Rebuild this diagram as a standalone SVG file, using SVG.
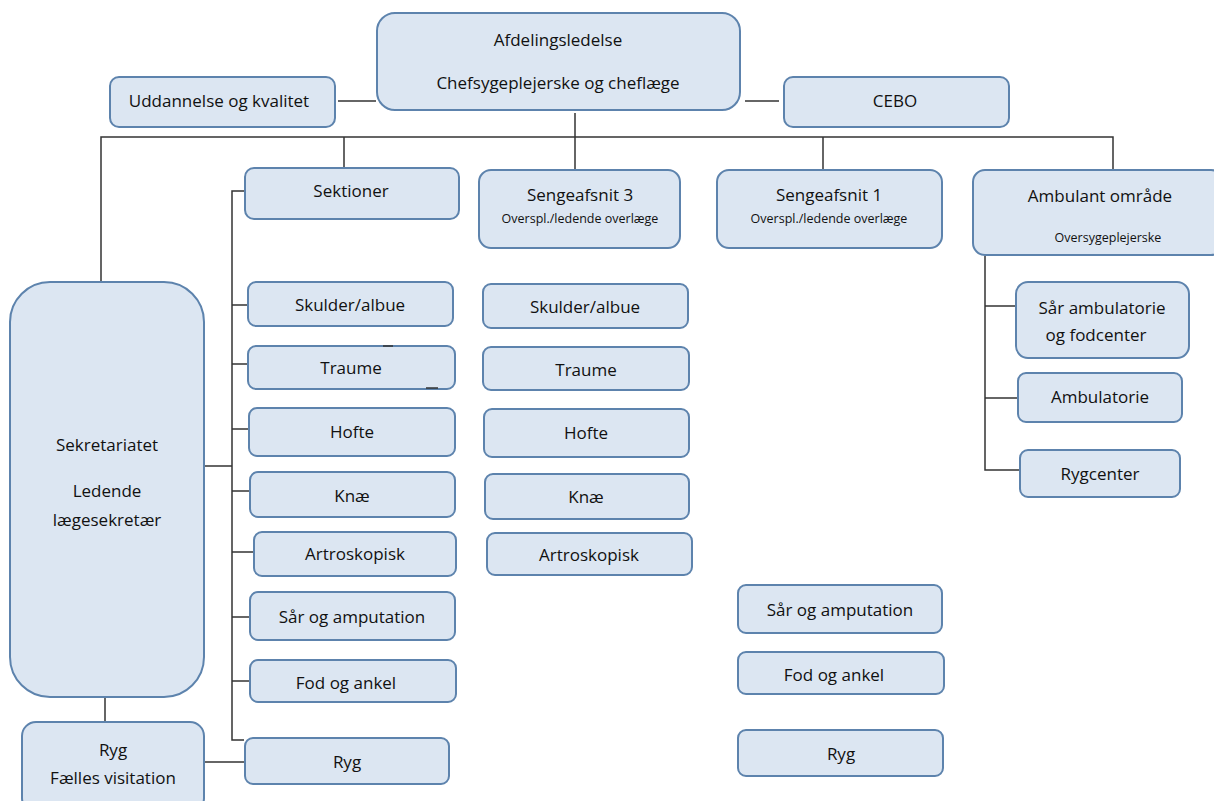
<svg xmlns="http://www.w3.org/2000/svg" width="1214" height="801" viewBox="0 0 1214 801">
<style>
.b{fill:#dce6f2;stroke:#5d83ad;stroke-width:2}
.t{font-family:"Open Sans","Liberation Sans",Arial,sans-serif;font-size:17px;font-weight:500;fill:#111;text-anchor:middle}
.s{font-family:"Open Sans","Liberation Sans",Arial,sans-serif;font-size:12.5px;font-weight:500;fill:#111;text-anchor:middle}
.c{stroke:#333;stroke-width:1.5;fill:none}
</style>
<rect width="1214" height="801" fill="#fff"/>
<g id="afdelingsledelse"><rect class="b" x="377" y="13" width="363" height="97" rx="18"/><text class="t" x="558" y="46">Afdelingsledelse</text><text class="t" x="558" y="89">Chefsygeplejerske og cheflæge</text></g>
<g id="uddannelse"><rect class="b" x="110" y="77" width="225" height="50" rx="9"/><text class="t" x="219" y="107">Uddannelse og kvalitet</text></g>
<g id="cebo"><rect class="b" x="784" y="77" width="225" height="50" rx="9"/><text class="t" x="895" y="107">CEBO</text></g>
<g id="sektioner"><rect class="b" x="245" y="168" width="214" height="51" rx="9"/><text class="t" x="351" y="197">Sektioner</text></g>
<g id="sengeafsnit3"><rect class="b" x="479" y="170" width="201" height="78" rx="12"/><text class="t" x="580" y="201">Sengeafsnit 3</text><text class="s" x="580" y="223">Overspl./ledende overlæge</text></g>
<g id="sengeafsnit1"><rect class="b" x="717" y="170" width="225" height="78" rx="12"/><text class="t" x="829" y="201">Sengeafsnit 1</text><text class="s" x="829" y="223">Overspl./ledende overlæge</text></g>
<g id="ambulant"><rect class="b" x="973" y="170" width="250" height="85" rx="12"/><text class="t" x="1100" y="202">Ambulant område</text><text class="s" x="1108" y="242">Oversygeplejerske</text></g>
<g id="sekretariatet"><rect class="b" x="10" y="282" width="194" height="415" rx="40"/><text class="t" x="107" y="451">Sekretariatet</text><text class="t" x="107" y="497">Ledende</text><text class="t" x="107" y="526">lægesekretær</text></g>
<g id="ryg-visitation"><rect class="b" x="22" y="722" width="182" height="90" rx="14"/><text class="t" x="113" y="756">Ryg</text><text class="t" x="113" y="784">Fælles visitation</text></g>
<g id="l-skulder"><rect class="b" x="248" y="282" width="205" height="44" rx="8"/><text class="t" x="350" y="311">Skulder/albue</text></g>
<g id="l-traume"><rect class="b" x="248" y="346" width="207" height="43" rx="8"/><text class="t" x="351" y="374">Traume</text></g>
<g id="l-hofte"><rect class="b" x="249" y="408" width="206" height="48" rx="8"/><text class="t" x="352" y="438">Hofte</text></g>
<g id="l-knae"><rect class="b" x="250" y="472" width="205" height="45" rx="8"/><text class="t" x="352" y="502">Knæ</text></g>
<g id="l-artro"><rect class="b" x="254" y="532" width="202" height="44" rx="8"/><text class="t" x="355" y="560">Artroskopisk</text></g>
<g id="l-saar"><rect class="b" x="250" y="592" width="205" height="48" rx="8"/><text class="t" x="352" y="623">Sår og amputation</text></g>
<g id="l-fod"><rect class="b" x="250" y="660" width="206" height="42" rx="8"/><text class="t" x="346" y="689">Fod og ankel</text></g>
<g id="l-ryg"><rect class="b" x="245" y="738" width="204" height="46" rx="8"/><text class="t" x="347" y="768">Ryg</text></g>
<g id="m-skulder"><rect class="b" x="483" y="284" width="205" height="44" rx="8"/><text class="t" x="585" y="313">Skulder/albue</text></g>
<g id="m-traume"><rect class="b" x="483" y="347" width="206" height="43" rx="8"/><text class="t" x="586" y="376">Traume</text></g>
<g id="m-hofte"><rect class="b" x="484" y="409" width="205" height="48" rx="8"/><text class="t" x="586" y="439">Hofte</text></g>
<g id="m-knae"><rect class="b" x="485" y="474" width="204" height="45" rx="8"/><text class="t" x="586" y="503">Knæ</text></g>
<g id="m-artro"><rect class="b" x="487" y="533" width="205" height="42" rx="8"/><text class="t" x="589" y="561">Artroskopisk</text></g>
<g id="r-saar"><rect class="b" x="738" y="585" width="204" height="48" rx="8"/><text class="t" x="840" y="616">Sår og amputation</text></g>
<g id="r-fod"><rect class="b" x="738" y="652" width="206" height="42" rx="8"/><text class="t" x="834" y="681">Fod og ankel</text></g>
<g id="r-ryg"><rect class="b" x="738" y="730" width="205" height="46" rx="8"/><text class="t" x="841" y="760">Ryg</text></g>
<g id="a-saar"><rect class="b" x="1016" y="282" width="173" height="76" rx="12"/><text class="t" x="1102" y="314">Sår ambulatorie</text><text class="t" x="1096" y="341">og fodcenter</text></g>
<g id="a-ambulatorie"><rect class="b" x="1018" y="373" width="164" height="49" rx="8"/><text class="t" x="1100" y="403">Ambulatorie</text></g>
<g id="a-rygcenter"><rect class="b" x="1020" y="450" width="160" height="47" rx="8"/><text class="t" x="1100" y="480">Rygcenter</text></g>
<g id="connectors">
<line class="c" x1="338" y1="101" x2="376" y2="101"/>
<line class="c" x1="745" y1="101" x2="779" y2="101"/>
<line class="c" x1="575" y1="113" x2="575" y2="169"/>
<polyline class="c" points="101,281 101,137 1113,137 1113,169"/>
<line class="c" x1="344" y1="137" x2="344" y2="167"/>
<line class="c" x1="823" y1="137" x2="823" y2="169"/>
<polyline class="c" points="244,191 232,191 232,740 244,740"/>
<line class="c" x1="205" y1="466" x2="232" y2="466"/>
<line class="c" x1="232" y1="305" x2="247" y2="305"/>
<line class="c" x1="232" y1="364" x2="247" y2="364"/>
<line class="c" x1="232" y1="429" x2="248" y2="429"/>
<line class="c" x1="232" y1="491" x2="249" y2="491"/>
<line class="c" x1="232" y1="552" x2="253" y2="552"/>
<line class="c" x1="232" y1="617" x2="249" y2="617"/>
<line class="c" x1="232" y1="681" x2="249" y2="681"/>
<line class="c" x1="105" y1="698" x2="105" y2="721"/>
<line class="c" x1="205" y1="762" x2="244" y2="762"/>
<line class="c" x1="383" y1="346" x2="393" y2="346"/>
<line class="c" x1="426" y1="388" x2="438" y2="388"/>
<polyline class="c" points="985,256 985,470 1019,470"/>
<line class="c" x1="985" y1="306" x2="1015" y2="306"/>
<line class="c" x1="985" y1="398" x2="1017" y2="398"/>
</g>
</svg>
